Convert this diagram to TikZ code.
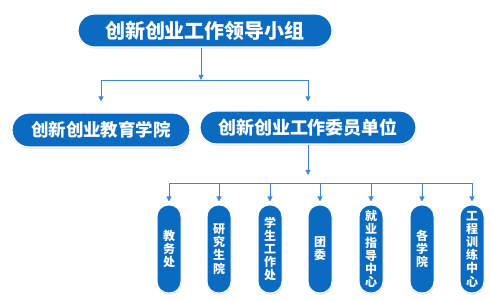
\documentclass[tikz,border=0pt]{standalone}
\usepackage{fontspec}
\newfontfamily\cjk{Noto Sans CJK SC}
\usetikzlibrary{positioning,shapes.misc,shadows,arrows.meta}
\definecolor{nodeblue}{HTML}{0B6BC1}
\definecolor{linkblue}{HTML}{3F88D0}
\tikzset{
  box/.style={rounded rectangle,fill=nodeblue,draw=white,line width=1.2pt,text=white,
    inner sep=0pt,drop shadow={shadow xshift=0.6pt,shadow yshift=-1.6pt,opacity=0.22}},
  pill/.style={rectangle,rounded corners=11.5pt,fill=nodeblue,draw=white,line width=1pt,text=white,
    minimum width=24pt,minimum height=88pt,inner sep=0pt,align=center,
    font=\cjk\bfseries\fontsize{12}{13.2}\selectfont,
    drop shadow={shadow xshift=0.6pt,shadow yshift=-1.6pt,opacity=0.22}},
  link/.style={draw=linkblue,line width=0.9pt},
  arr/.style={link,-{Triangle[width=5pt,length=5pt]}}
}
\begin{document}
\begin{tikzpicture}[x=1pt,y=-1pt]
\useasboundingbox (0,0) rectangle (491,302);
% top level
\node[box,minimum width=254pt,minimum height=33pt,font=\cjk\bfseries\fontsize{20}{24}\selectfont]
  (top) at (205,30.5) {创新创业工作领导小组};
\node[box,minimum width=178pt,minimum height=34pt,font=\cjk\bfseries\fontsize{17.5}{21}\selectfont]
  (school) at (101,130) {创新创业教育学院};
\node[box,minimum width=216pt,minimum height=33pt,font=\cjk\bfseries\fontsize{18}{21}\selectfont]
  (council) at (308,127.5) {创新创业工作委员单位};
\coordinate (bar1) at (201,80);
\coordinate (bar2) at (320,183);
\draw[arr] (top.south -| bar1) -- (bar1);
\draw[link] (school.north |- bar1) -- (council.north |- bar1);
\draw[arr,shorten >=11pt] (school.north |- bar1) -- (school.north);
\draw[arr,shorten >=9pt] (council.north |- bar1) -- (council.north);
% member units
\foreach \x/\name/\txt in {169/jwc/{教\\务\\处},219/yjsy/{研\\究\\生\\院},270/xgc/{学\\生\\工\\作\\处},
  320/tw/{团\\委},371/jyzd/{就\\业\\指\\导\\中\\心},422/gxy/{各\\学\\院},472/gcxl/{工\\程\\训\\练\\中\\心}}
  \node[pill] (\name) at (\x,249) {\txt};
\draw[arr,shorten >=8pt] (council.south) -- (council.south |- bar2);
\draw[link] (jwc.north |- bar2) -- (gcxl.north |- bar2);
\foreach \name in {jwc,yjsy,xgc,tw,jyzd,gxy,gcxl}
  \draw[arr,shorten >=3pt] (\name.north |- bar2) -- (\name.north);
\end{tikzpicture}
\end{document}
